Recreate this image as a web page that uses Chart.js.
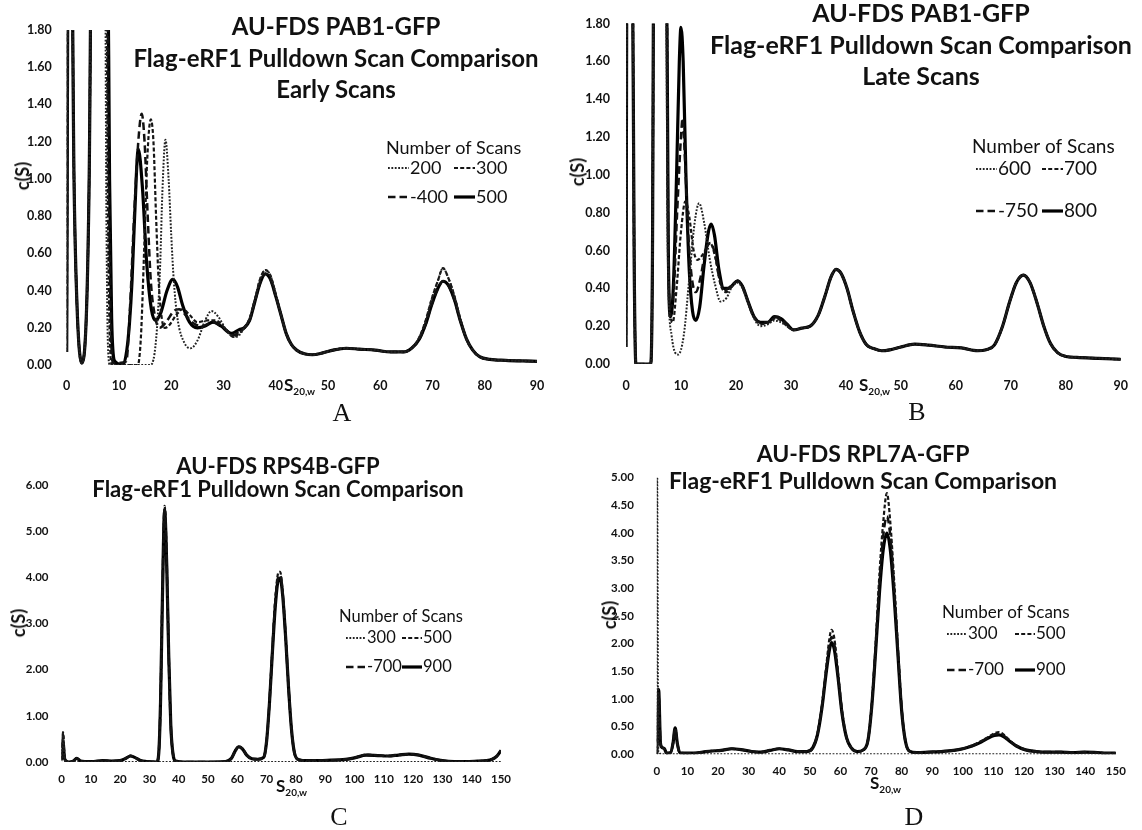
<!DOCTYPE html>
<html>
<head>
<meta charset="utf-8">
<script src="https://cdn.jsdelivr.net/npm/chart.js@4.4.1/dist/chart.umd.min.js"></script>
<style>
  body { margin: 0; background: #fff; }
  #page { position: relative; width: 1142px; height: 830px; overflow: hidden; background: #fff; color: #111; }
  .panel { position: absolute; }
  .ttl { position: absolute; transform: translate(-50%, -50%); white-space: nowrap;
         font-family: Lato, sans-serif; font-weight: bold; }
  .ylab { position: absolute; transform: translate(-50%, -50%) rotate(-90deg);
          font: bold 18px Lato, sans-serif; white-space: nowrap; }
  .xlab { position: absolute; font: bold 17px Lato, sans-serif; white-space: nowrap; line-height: 17px; }
  .xlab sub { font-size: 10px; vertical-align: -4px; }
  .letter { position: absolute; transform: translate(-50%, -50%);
            font: 26px "Liberation Serif", "Times New Roman", serif; }
</style>
</head>
<body>
<div id="page">
  <canvas class="panel" id="chartA" width="571" height="400" style="left:0;top:0"></canvas>
  <canvas class="panel" id="chartB" width="571" height="400" style="left:571px;top:0"></canvas>
  <canvas class="panel" id="chartC" width="571" height="410" style="left:0;top:420px"></canvas>
  <canvas class="panel" id="chartD" width="571" height="410" style="left:571px;top:420px"></canvas>

  <div class="ttl" style="left:336px;top:25px;font-size:24px">AU-FDS PAB1-GFP</div>
  <div class="ttl" style="left:336px;top:57px;font-size:24px">Flag-eRF1 Pulldown Scan Comparison</div>
  <div class="ttl" style="left:336px;top:88px;font-size:24px">Early Scans</div>

  <div class="ttl" style="left:921px;top:12px;font-size:25px">AU-FDS PAB1-GFP</div>
  <div class="ttl" style="left:921px;top:44px;font-size:25px">Flag-eRF1 Pulldown Scan Comparison</div>
  <div class="ttl" style="left:921px;top:75px;font-size:25px">Late Scans</div>

  <div class="ttl" style="left:278px;top:465px;font-size:22px">AU-FDS RPS4B-GFP</div>
  <div class="ttl" style="left:278px;top:488px;font-size:22px">Flag-eRF1 Pulldown Scan Comparison</div>

  <div class="ttl" style="left:863px;top:453px;font-size:23px">AU-FDS RPL7A-GFP</div>
  <div class="ttl" style="left:863px;top:480px;font-size:23px">Flag-eRF1 Pulldown Scan Comparison</div>

  <div class="ylab" style="left:22px;top:176px">c(S)</div>
  <div class="ylab" style="left:577px;top:172px">c(S)</div>
  <div class="ylab" style="left:18px;top:623px">c(S)</div>
  <div class="ylab" style="left:609px;top:615px">c(S)</div>

  <div class="xlab" style="left:284px;top:376px">S<sub>20,w</sub></div>
  <div class="xlab" style="left:859px;top:376px">S<sub>20,w</sub></div>
  <div class="xlab" style="left:276px;top:777px">S<sub>20,w</sub></div>
  <div class="xlab" style="left:870px;top:774px">S<sub>20,w</sub></div>

  <div class="letter" style="left:342px;top:413px">A</div>
  <div class="letter" style="left:917px;top:412px">B</div>
  <div class="letter" style="left:339px;top:817px">C</div>
  <div class="letter" style="left:914px;top:817px">D</div>
</div>

<script>
// ---- A: early scans (S in svedbergs, c(S)) ----
const sA200 = [0, 0.3, 0.9, 1.4, 2.0, 2.9, 3.8, 4.3, 4.8, 7.3, 7.6, 7.9, 8.3, 16.0, 16.8, 17.4, 17.9, 18.3, 18.9, 19.5, 20.0, 20.5, 21.2, 22.5, 23.7, 25.0, 26.5, 27.7, 29.0, 30.5, 32.0, 33.0];
const cA200 = [0.07, 2.4, 2.4, 1.0, 0.3, 0.01, 0.3, 1.0, 2.4, 2.4, 0.8, 0.1, 0.0, 0.0, 0.06, 0.25, 0.55, 0.92, 1.21, 1.0, 0.7, 0.45, 0.25, 0.12, 0.09, 0.13, 0.24, 0.29, 0.26, 0.19, 0.15, 0.16];
const sA300 = [0, 0.3, 0.9, 1.4, 2.0, 2.9, 3.8, 4.3, 4.8, 7.5, 7.9, 8.3, 8.7, 13.6, 14.2, 14.8, 15.4, 16.1, 16.6, 17.1, 17.6, 18.2, 18.8, 19.5, 21.0, 22.2, 23.5, 25.0, 27.0, 28.5, 30.5, 32.0, 33.0];
const cA300 = [0.07, 2.4, 2.4, 1.0, 0.3, 0.01, 0.3, 1.0, 2.4, 2.4, 0.8, 0.1, 0.0, 0.0, 0.15, 0.6, 1.1, 1.32, 1.2, 0.8, 0.45, 0.25, 0.2, 0.21, 0.27, 0.3, 0.27, 0.23, 0.24, 0.24, 0.19, 0.15, 0.17];
const sA400 = [0, 0.3, 0.9, 1.4, 2.0, 2.9, 3.8, 4.3, 4.8, 7.7, 8.1, 8.5, 8.9, 11.4, 12.1, 12.9, 13.7, 14.35, 14.9, 15.5, 16.1, 16.9, 17.8, 19.0, 20.5, 21.5, 23.0, 24.5, 26.0, 28.0, 30.0, 32.0, 33.0];
const cA400 = [0.07, 2.4, 2.4, 1.0, 0.3, 0.01, 0.3, 1.0, 2.4, 2.4, 0.9, 0.15, 0.01, 0.02, 0.3, 0.8, 1.2, 1.35, 1.2, 0.8, 0.45, 0.26, 0.2, 0.23, 0.29, 0.3, 0.26, 0.22, 0.21, 0.23, 0.2, 0.16, 0.18];
const sA500 = [0, 0.3, 0.9, 1.4, 2.0, 2.9, 3.8, 4.3, 4.8, 7.8, 8.2, 8.6, 9.2, 10.8, 11.5, 12.0, 12.5, 13.0, 13.7, 14.5, 15.3, 16.2, 17.0, 18.0, 19.2, 20.3, 21.2, 22.2, 23.5, 25.0, 26.5, 28.0, 29.5, 31.5, 33.0];
const cA500 = [0.07, 2.4, 2.4, 1.0, 0.3, 0.01, 0.3, 1.0, 2.4, 2.4, 1.0, 0.25, 0.02, 0.0, 0.08, 0.22, 0.45, 0.8, 1.16, 0.95, 0.55, 0.3, 0.24, 0.28, 0.4, 0.46, 0.42, 0.32, 0.23, 0.2, 0.21, 0.23, 0.21, 0.17, 0.19];
// beyond 33 S the four early scans nearly coincide
const tailA_s  = [34, 35, 36, 37, 38, 39, 40, 41, 42, 43, 44, 45.5, 47, 49, 51, 53.5, 56, 59, 62, 64.5, 66, 67.5, 68.7, 69.8, 71, 72, 73, 74.2, 75.3, 76.5, 77.7, 79, 81, 84, 87, 90];
const tailA_lo = [0.2, 0.24, 0.34, 0.44, 0.49, 0.46, 0.37, 0.27, 0.17, 0.11, 0.08, 0.06, 0.055, 0.065, 0.08, 0.09, 0.085, 0.08, 0.07, 0.07, 0.09, 0.14, 0.22, 0.32, 0.41, 0.45, 0.43, 0.35, 0.24, 0.14, 0.08, 0.045, 0.03, 0.025, 0.022, 0.02];
const tailA_hi = [0.2, 0.25, 0.35, 0.46, 0.51, 0.48, 0.38, 0.27, 0.17, 0.11, 0.08, 0.06, 0.055, 0.065, 0.08, 0.09, 0.085, 0.08, 0.07, 0.07, 0.09, 0.15, 0.24, 0.35, 0.45, 0.52, 0.47, 0.37, 0.25, 0.14, 0.08, 0.045, 0.03, 0.025, 0.022, 0.02];

// ---- B: late scans ----
const sB600 = [0, 0.2, 1.1, 1.5, 1.8, 4.5, 4.8, 5.1, 7.2, 7.6, 8.3, 9.5, 10.5, 11.5, 12.5, 13.3, 14.2, 15.2, 16.2, 17.2, 18.3, 19.3, 20.3, 21.2, 22.2, 23.3, 24.5, 25.8, 27.0, 28.2, 29.3, 30.5, 32.0];
const cB600 = [0.09, 2.4, 2.4, 0.5, 0.0, 0.0, 0.5, 2.4, 2.4, 0.6, 0.15, 0.05, 0.15, 0.45, 0.75, 0.85, 0.75, 0.56, 0.42, 0.33, 0.35, 0.41, 0.43, 0.4, 0.32, 0.24, 0.2, 0.21, 0.23, 0.22, 0.2, 0.18, 0.19];
const sB700 = [0, 0.2, 1.1, 1.5, 1.8, 4.5, 4.8, 5.1, 7.3, 7.7, 8.5, 9.2, 10.0, 10.8, 11.5, 12.3, 13.0, 14.0, 15.3, 16.2, 17.2, 18.2, 19.2, 20.3, 21.2, 22.2, 23.3, 24.5, 25.8, 27.0, 28.2, 29.3, 30.5, 32.0];
const cB700 = [0.09, 2.4, 2.4, 0.5, 0.0, 0.0, 0.5, 2.4, 2.4, 0.5, 0.22, 0.4, 0.7, 0.86, 0.78, 0.6, 0.55, 0.58, 0.64, 0.57, 0.42, 0.38, 0.41, 0.44, 0.41, 0.33, 0.25, 0.21, 0.22, 0.24, 0.23, 0.2, 0.18, 0.19];
const sB750 = [0, 0.2, 1.1, 1.5, 1.8, 4.5, 4.8, 5.1, 7.3, 7.7, 8.0, 8.6, 9.3, 10.0, 10.3, 10.7, 11.3, 12.0, 12.7, 13.5, 14.5, 15.4, 16.2, 17.0, 18.0, 19.0, 20.3, 21.2, 22.2, 23.3, 24.5, 25.8, 27.0, 28.2, 29.3, 30.5, 32.0];
const cB750 = [0.09, 2.4, 2.4, 0.5, 0.0, 0.0, 0.5, 2.4, 2.4, 0.6, 0.3, 0.35, 0.8, 1.2, 1.3, 1.1, 0.7, 0.45, 0.38, 0.45, 0.6, 0.64, 0.58, 0.45, 0.39, 0.41, 0.44, 0.41, 0.33, 0.25, 0.22, 0.22, 0.25, 0.24, 0.21, 0.18, 0.19];
const sB800 = [0, 0.2, 1.1, 1.5, 1.8, 4.5, 4.8, 5.1, 7.3, 7.7, 8.1, 8.6, 9.2, 9.7, 10.0, 10.4, 10.9, 11.5, 12.1, 12.7, 13.4, 14.2, 15.0, 15.5, 16.1, 16.9, 17.8, 18.7, 19.5, 20.3, 21.2, 22.2, 23.3, 24.5, 25.8, 27.0, 28.2, 29.3, 30.5, 32.0];
const cB800 = [0.09, 2.4, 2.4, 0.5, 0.0, 0.0, 0.5, 2.4, 2.4, 0.6, 0.25, 0.4, 1.0, 1.6, 1.78, 1.6, 1.0, 0.5, 0.28, 0.23, 0.3, 0.52, 0.7, 0.74, 0.68, 0.5, 0.4, 0.4, 0.42, 0.44, 0.41, 0.33, 0.25, 0.22, 0.22, 0.25, 0.24, 0.21, 0.18, 0.19];
const tailB_s = [33.5, 35.0, 36.2, 37.3, 38.2, 39.1, 40.2, 41.3, 42.5, 43.8, 45.2, 46.5, 48.0, 50.0, 52.5, 55.0, 58.0, 61.0, 64.0, 65.5, 67.0, 68.5, 69.8, 71.0, 72.3, 73.5, 74.8, 76.0, 77.2, 78.5, 80.0, 82.0, 86.0, 90.0];
const tailB_c = [0.2, 0.26, 0.36, 0.46, 0.5, 0.48, 0.4, 0.28, 0.17, 0.1, 0.08, 0.07, 0.075, 0.09, 0.105, 0.1, 0.09, 0.085, 0.07, 0.075, 0.1, 0.2, 0.33, 0.43, 0.47, 0.43, 0.32, 0.2, 0.11, 0.06, 0.04, 0.035, 0.03, 0.025];

// ---- C: RPS4B-GFP ----
const sC = [0, 0.5, 1.0, 1.6, 2.5, 4.0, 5.2, 6.5, 8.0, 11, 14, 17, 20, 22, 23.5, 25, 27, 29, 32.5, 33.2, 33.8, 34.4, 35.2, 35.9, 36.6, 37.3, 38.0, 39.0, 42, 50, 56, 58, 59.3, 60.5, 61.8, 63.2, 65, 67, 69, 70, 71, 72, 73, 74, 74.6, 75.5, 76.5, 77.5, 78.5, 79.5, 81, 84, 88, 92, 96, 100, 104, 108, 111.5, 115, 118.5, 122, 126, 130, 134, 138, 142, 145, 147, 148.5, 150];
const cC500 = [0.05, 0.65, 0.1, 0.02, 0, 0.02, 0.08, 0.02, 0.01, 0.01, 0.03, 0.02, 0.03, 0.08, 0.14, 0.1, 0.03, 0.01, 0, 0.2, 1.35, 3.5, 5.55, 4.4, 2.35, 0.8, 0.2, 0.02, 0, 0, 0.01, 0.08, 0.25, 0.34, 0.29, 0.15, 0.07, 0.06, 0.1, 0.46, 1.35, 2.5, 3.55, 4.1, 4.12, 3.7, 2.75, 1.65, 0.7, 0.2, 0.05, 0.03, 0.03, 0.04, 0.05, 0.09, 0.16, 0.14, 0.13, 0.15, 0.17, 0.15, 0.08, 0.03, 0.01, 0.01, 0.02, 0.03, 0.06, 0.12, 0.25];
const cC700 = [0.05, 0.6, 0.1, 0.02, 0, 0.02, 0.08, 0.02, 0.01, 0.01, 0.03, 0.02, 0.03, 0.08, 0.13, 0.1, 0.03, 0.01, 0, 0.2, 1.3, 3.45, 5.5, 4.35, 2.3, 0.8, 0.2, 0.02, 0, 0, 0.01, 0.08, 0.24, 0.33, 0.28, 0.15, 0.07, 0.06, 0.1, 0.45, 1.3, 2.45, 3.5, 4.02, 4.05, 3.65, 2.7, 1.6, 0.7, 0.2, 0.05, 0.03, 0.03, 0.04, 0.05, 0.09, 0.15, 0.14, 0.13, 0.15, 0.17, 0.15, 0.08, 0.03, 0.01, 0.01, 0.02, 0.03, 0.06, 0.12, 0.25];
const cC900 = [0.05, 0.45, 0.1, 0.02, 0, 0.02, 0.08, 0.02, 0.01, 0.01, 0.03, 0.02, 0.03, 0.08, 0.13, 0.1, 0.03, 0.01, 0, 0.2, 1.3, 3.4, 5.45, 4.3, 2.3, 0.8, 0.2, 0.02, 0, 0, 0.01, 0.08, 0.24, 0.33, 0.28, 0.15, 0.07, 0.06, 0.1, 0.45, 1.3, 2.4, 3.4, 3.95, 3.98, 3.6, 2.7, 1.6, 0.7, 0.2, 0.05, 0.03, 0.03, 0.04, 0.05, 0.09, 0.15, 0.14, 0.13, 0.15, 0.17, 0.15, 0.08, 0.03, 0.01, 0.01, 0.02, 0.03, 0.06, 0.12, 0.25];
const sC300 = [0, 0.5, 1.2, 3, 20, 40, 60, 80, 100, 120, 140, 150];
const cC300 = [0.02, 0.62, 0.02, 0, 0, 0, 0, 0, 0, 0, 0, 0];

// ---- D: RPL7A-GFP ----
const sD = [0, 0.6, 1.2, 1.8, 2.5, 3.2, 4.5, 5.3, 6.0, 6.7, 7.5, 9, 12, 15, 18, 21, 24.5, 28, 31, 34, 37, 40, 43, 46, 49, 51, 52.5, 54, 55.3, 56.3, 57.1, 58, 59.2, 60.5, 62, 63.5, 65.5, 67.5, 69, 70.3, 71.5, 72.8, 74, 75.2, 76.3, 77.5, 78.8, 80, 81.2, 82.5, 85, 89, 93, 97, 100, 103, 106, 108.5, 110.3, 111.8, 113.3, 115, 117.5, 120.5, 124, 128, 132, 136, 140, 144, 147, 150];
const cD500 = [0.0, 1.12, 0.2, 0.12, 0.1, 0.02, 0.03, 0.2, 0.47, 0.2, 0.03, 0.02, 0.02, 0.04, 0.06, 0.07, 0.1, 0.08, 0.05, 0.04, 0.07, 0.1, 0.08, 0.05, 0.05, 0.12, 0.37, 0.9, 1.55, 2.05, 2.25, 2.1, 1.5, 0.8, 0.3, 0.12, 0.05, 0.08, 0.26, 0.95, 2.0, 3.3, 4.2, 4.72, 4.2, 3.2, 1.95, 0.85, 0.26, 0.06, 0.03, 0.04, 0.05, 0.07, 0.1, 0.16, 0.24, 0.32, 0.38, 0.4, 0.36, 0.27, 0.16, 0.08, 0.05, 0.04, 0.04, 0.03, 0.04, 0.03, 0.02, 0.02];
const cD700 = [0.0, 1.05, 0.2, 0.12, 0.1, 0.02, 0.03, 0.2, 0.46, 0.2, 0.03, 0.02, 0.02, 0.04, 0.06, 0.07, 0.1, 0.08, 0.05, 0.04, 0.07, 0.1, 0.08, 0.05, 0.05, 0.12, 0.36, 0.88, 1.5, 1.93, 2.12, 2.0, 1.45, 0.78, 0.3, 0.12, 0.05, 0.08, 0.25, 0.92, 1.9, 3.1, 3.95, 4.3, 3.95, 3.05, 1.85, 0.82, 0.25, 0.06, 0.03, 0.04, 0.05, 0.07, 0.1, 0.15, 0.23, 0.31, 0.36, 0.37, 0.34, 0.26, 0.15, 0.08, 0.05, 0.04, 0.04, 0.03, 0.04, 0.03, 0.02, 0.02];
const cD900 = [0.0, 1.17, 0.2, 0.12, 0.1, 0.02, 0.03, 0.2, 0.48, 0.2, 0.03, 0.02, 0.02, 0.04, 0.06, 0.07, 0.1, 0.08, 0.05, 0.04, 0.07, 0.1, 0.08, 0.05, 0.05, 0.12, 0.35, 0.85, 1.45, 1.85, 2.02, 1.9, 1.4, 0.75, 0.3, 0.12, 0.05, 0.08, 0.25, 0.9, 1.85, 2.95, 3.7, 4.0, 3.7, 2.9, 1.8, 0.8, 0.25, 0.06, 0.03, 0.04, 0.05, 0.07, 0.1, 0.15, 0.22, 0.3, 0.34, 0.35, 0.32, 0.25, 0.15, 0.08, 0.05, 0.04, 0.04, 0.03, 0.04, 0.03, 0.02, 0.02];
const sD300 = [0, 0.05, 0.5, 2, 20, 40, 60, 80, 100, 120, 140, 150];
const cD300 = [0, 5.6, 0.05, 0, 0, 0, 0, 0, 0, 0, 0, 0];

// line styles for the four scan counts
const DOT   = { borderColor: '#222', borderWidth: 2.0, borderDash: [1.8, 1.6] };
const SHORT = { borderColor: '#151515', borderWidth: 2.2, borderDash: [4, 2.2] };
const LONG  = { borderColor: '#111', borderWidth: 2.5, borderDash: [7.5, 4] };
const SOLID = { borderColor: '#000', borderWidth: 3.2, borderDash: [] };

const series = (label, s, c, style) => ({
    label,
    data: s.map((x, i) => ({ x, y: c[i] })),
    ...style,
    pointRadius: 0,
    fill: false,
    cubicInterpolationMode: 'monotone'
});

// "Number of Scans" key, two entries per row
const scanLegend = {
    id: 'scanLegend',
    afterDraw(chart, args, opts) {
        const ctx = chart.ctx;
        ctx.save();
        ctx.font = opts.font;
        ctx.fillStyle = '#111';
        ctx.textBaseline = 'middle';
        ctx.fillText('Number of Scans', opts.x, opts.y);
        chart.data.datasets.forEach((ds, i) => {
            const x = opts.cols[i % 2];
            const y = opts.rows[Math.floor(i / 2)];
            ctx.beginPath();
            ctx.setLineDash(ds.borderDash);
            ctx.lineWidth = ds.borderWidth;
            ctx.strokeStyle = ds.borderColor;
            ctx.moveTo(x, y);
            ctx.lineTo(x + opts.len, y);
            ctx.stroke();
            ctx.setLineDash([]);
            ctx.fillText(ds.label, x + opts.len + 1, y);
        });
        ctx.restore();
    }
};

const makeChart = (id, datasets, ax, legend) => {
    const tickFont = { family: 'Lato', weight: 'bold', size: ax.fs };
    new Chart(document.getElementById(id), {
        type: 'line',
        data: { datasets },
        options: {
            responsive: false,
            animation: false,
            devicePixelRatio: 1,
            layout: { padding: ax.pad },
            plugins: {
                legend: { display: false },
                tooltip: { enabled: false },
                scanLegend: legend
            },
            scales: {
                x: {
                    type: 'linear', min: 0, max: ax.xmax,
                    grid: { display: false, drawTicks: false },
                    border: { display: false },
                    ticks: { stepSize: 10, autoSkip: false, maxRotation: 0, padding: ax.xpad, font: tickFont, color: '#111' },
                    afterFit: a => { a.height = ax.xh; }
                },
                y: {
                    min: 0, max: ax.ymax,
                    grid: { display: false, drawTicks: false },
                    border: { display: false },
                    ticks: { stepSize: ax.ystep, padding: ax.ypad, font: tickFont, color: '#111',
                             callback: v => v.toFixed(2) },
                    afterFit: a => { a.width = ax.yw; }
                }
            }
        },
        plugins: [scanLegend]
    });
};

makeChart('chartA', [
    series('200', sA200.concat(tailA_s), cA200.concat(tailA_hi), DOT),
    series('300', sA300.concat(tailA_s), cA300.concat(tailA_hi), SHORT),
    series('-400', sA400.concat(tailA_s), cA400.concat(tailA_lo), LONG),
    series('500', sA500.concat(tailA_s), cA500.concat(tailA_lo), SOLID)
], { xmax: 90, ymax: 1.8, ystep: 0.2, fs: 12.5, yw: 66.7, xh: 35, xpad: 13, ypad: 15,
     pad: { top: 30, right: 34, bottom: 0, left: 0 } },
   { font: '18px Lato', x: 386, y: 148, rows: [168, 197], cols: [388, 454], len: 21 });

makeChart('chartB', [
    series('600', sB600.concat(tailB_s), cB600.concat(tailB_c), DOT),
    series('700', sB700.concat(tailB_s), cB700.concat(tailB_c), SHORT),
    series('-750', sB750.concat(tailB_s), cB750.concat(tailB_c), LONG),
    series('800', sB800.concat(tailB_s), cB800.concat(tailB_c), SOLID)
], { xmax: 90, ymax: 1.8, ystep: 0.2, fs: 12.5, yw: 55, xh: 36, xpad: 14, ypad: 16,
     pad: { top: 15, right: 15, bottom: 0, left: 0 } },
   { font: '19px Lato', x: 401, y: 147, rows: [169, 211], cols: [405, 471], len: 21 });

makeChart('chartC', [
    series('300', sC300, cC300, DOT),
    series('500', sC, cC500, SHORT),
    series('-700', sC, cC700, LONG),
    series('900', sC, cC900, SOLID)
], { xmax: 150, ymax: 6, ystep: 1, fs: 11.5, yw: 61.5, xh: 68, xpad: 10, ypad: 13,
     pad: { top: 65, right: 70, bottom: 0, left: 0 } },
   { font: '16.5px Lato', x: 339, y: 197, rows: [218, 247], cols: [346, 402], len: 20 });

makeChart('chartD', [
    series('300', sD300, cD300, DOT),
    series('500', sD, cD500, SHORT),
    series('-700', sD, cD700, LONG),
    series('900', sD, cD900, SOLID)
], { xmax: 150, ymax: 5, ystep: 0.5, fs: 11.5, yw: 85.8, xh: 75.7, xpad: 10, ypad: 23,
     pad: { top: 57.7, right: 26.2, bottom: 0, left: 0 } },
   { font: '17px Lato', x: 371, y: 193, rows: [214, 250], cols: [376, 444], len: 20 });
</script>
</body>
</html>
